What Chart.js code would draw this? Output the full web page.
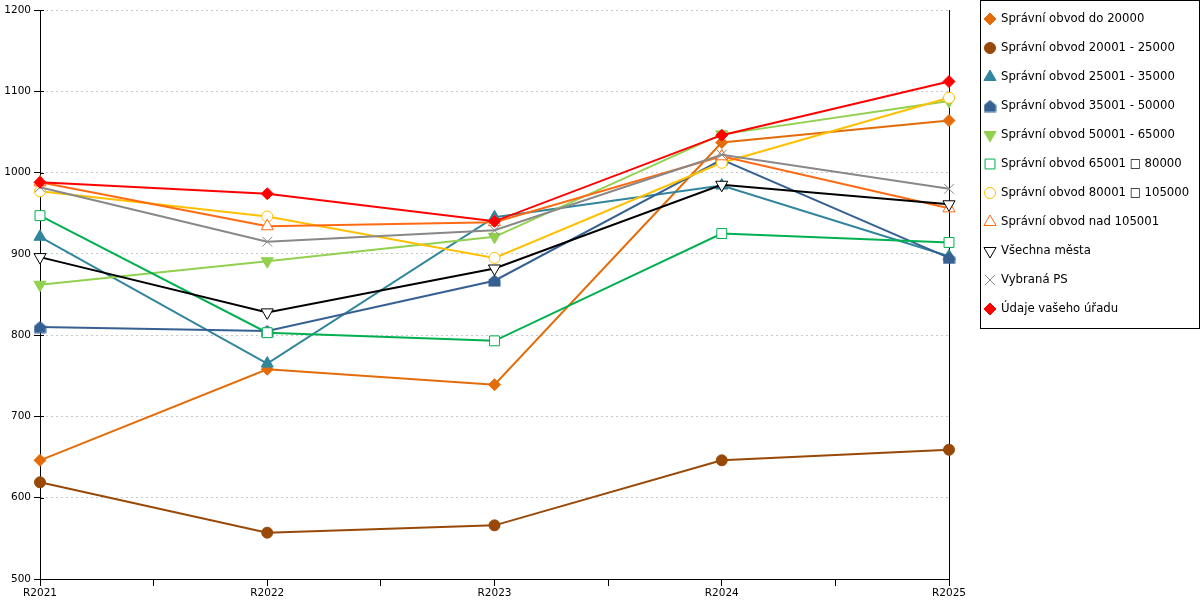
<!DOCTYPE html>
<html lang="cs">
<head>
  <meta charset="UTF-8" />
  <title>Správní obvody</title>
  <script src="https://cdn.jsdelivr.net/npm/chart.js"></script>
  <style>
    body { margin: 0; background: #fff; }
    #wrap { width: 1200px; height: 600px; }
  </style>
</head>
<body>
  <div id="wrap"><canvas id="chart"></canvas></div>

  <script>
    const labels = ["R2021", "R2022", "R2023", "R2024", "R2025"];

    const do20000   = [646, 758, 739, 1037, 1064];
    const o20_25    = [619, 557, 566, 646, 659];
    const o25_35    = [921, 765, 945, 984, 897];
    const o35_50    = [810, 805, 867, 1016, 895];
    const o50_65    = [862, 891, 921, 1047, 1088];
    const o65_80    = [947, 803, 793, 925, 914];
    const o80_105   = [977, 946, 895, 1012, 1092];
    const nad105001 = [988, 934, 939, 1020, 956];
    const vsechna   = [896, 828, 882, 985, 961];
    const vybrana   = [982, 915, 929, 1022, 980];
    const udaje     = [988, 974, 940, 1046, 1112];

    const yTicks = { min: 500, max: 1200, step: 100 };

    // pětiúhelník ("domeček") pro 35001 - 50000
    function housePoint(color) {
      const c = document.createElement("canvas");
      c.width = 13; c.height = 13;
      const g = c.getContext("2d");
      g.fillStyle = color;
      g.beginPath();
      g.moveTo(6.5, 0.5);
      g.lineTo(12.5, 5.5);
      g.lineTo(12.5, 12.5);
      g.lineTo(0.5, 12.5);
      g.lineTo(0.5, 5.5);
      g.closePath();
      g.fill();
      return c;
    }

    const series = [
      { label: "Správní obvod do 20000", data: do20000, color: "#E36C09", style: "rectRot", r: 6 },
      { label: "Správní obvod 20001 - 25000", data: o20_25, color: "#984807", style: "circle", r: 5.5 },
      { label: "Správní obvod 25001 - 35000", data: o25_35, color: "#31859C", style: "triangle", r: 7 },
      { label: "Správní obvod 35001 - 50000", data: o35_50, color: "#366092", style: housePoint("#366092"), r: 6 },
      { label: "Správní obvod 50001 - 65000", data: o50_65, color: "#92D050", style: "triangle", r: 7, rot: 180 },
      { label: "Správní obvod 65001 \u25A1 80000", data: o65_80, color: "#00B050", style: "rect", r: 7, hollow: true },
      { label: "Správní obvod 80001 \u25A1 105000", data: o80_105, color: "#FFC000", style: "circle", r: 5.5, hollow: true },
      { label: "Správní obvod nad 105001", data: nad105001, color: "#FF6A13", style: "triangle", r: 7, hollow: true },
      { label: "Všechna města", data: vsechna, color: "#000000", style: "triangle", r: 7, rot: 180, hollow: true },
      { label: "Vybraná PS", data: vybrana, color: "#888888", style: "crossRot", r: 7, hollow: true },
      { label: "Údaje vašeho úřadu", data: udaje, color: "#FF0000", style: "rectRot", r: 6 }
    ];

    const datasets = series.map((s, i) => ({
      label: s.label,
      data: s.data.map((v, k) => ({ x: k, y: v })),
      borderColor: s.color,
      borderWidth: 2,
      pointStyle: s.style,
      pointRadius: s.r,
      pointRotation: s.rot || 0,
      pointBackgroundColor: s.hollow ? "#ffffff" : s.color,
      pointBorderColor: s.color,
      pointBorderWidth: 1,
      tension: 0,
      clip: false,
      order: series.length - i
    }));

    // vlastní legenda v rámečku vpravo + pravá svislá čára + ticky přes osu Y
    const boxLegend = {
      id: "boxLegend",
      beforeDatasetsDraw(chart) {
        const ctx = chart.ctx;
        const a = chart.chartArea;
        const ys = chart.scales.y;
        ctx.save();
        ctx.strokeStyle = "#000";
        ctx.lineWidth = 1;
        ctx.beginPath();
        ctx.moveTo(Math.round(a.right) + 0.5, a.top);
        ctx.lineTo(Math.round(a.right) + 0.5, a.bottom + 4);
        ys.ticks.forEach(t => {
          const py = Math.round(ys.getPixelForValue(t.value)) + 0.5;
          ctx.moveTo(a.left, py);
          ctx.lineTo(a.left + 4, py);
        });
        ctx.stroke();
        ctx.restore();
      },
      afterDraw(chart) {
        const ctx = chart.ctx;
        ctx.save();
        ctx.strokeStyle = "#000";
        ctx.lineWidth = 1;
        const lx = 980, ly = 0, lw = 219, lh = 328;
        ctx.strokeRect(lx + 0.5, ly + 0.5, lw, lh);

        ctx.font = "11.7px 'DejaVu Sans'";
        ctx.textBaseline = "middle";
        ctx.textAlign = "left";
        series.forEach((s, i) => {
          const y = 19 + i * 29;
          ctx.fillStyle = s.hollow ? "#ffffff" : s.color;
          ctx.strokeStyle = s.color;
          ctx.lineWidth = 1;
          Chart.helpers.drawPoint(ctx, {
            pointStyle: s.style, radius: s.r, rotation: s.rot || 0, borderWidth: 1
          }, 990, y);
          ctx.fillStyle = "#000";
          ctx.fillText(s.label, 1001, y);
        });
        ctx.restore();
      }
    };

    new Chart(document.getElementById("chart"), {
      type: "line",
      data: { datasets },
      plugins: [boxLegend],
      options: {
        responsive: true,
        maintainAspectRatio: false,
        animation: false,
        layout: { padding: { top: 10, right: 251, left: 0, bottom: 0 } },
        plugins: { legend: { display: false }, tooltip: { enabled: false } },
        scales: {
          x: {
            type: "linear",
            min: 0,
            max: labels.length - 1,
            afterFit: s => { s.height = 21; },
            ticks: {
              stepSize: 0.5,
              autoSkip: false,
              maxRotation: 0,
              padding: 1,
              color: "#000",
              font: { family: "DejaVu Sans", size: 10.5 },
              callback: v => Number.isInteger(v) ? labels[v] : ""
            },
            grid: { drawOnChartArea: false, tickLength: 7, color: "#000" },
            border: { color: "#000", width: 1 }
          },
          y: {
            min: yTicks.min,
            max: yTicks.max,
            afterFit: s => { s.width = 40; },
            ticks: {
              stepSize: yTicks.step,
              padding: 3,
              color: "#000",
              font: { family: "DejaVu Sans", size: 10.5 },
              callback: v => String(v)
            },
            grid: { color: "#c8c8c8", tickColor: "#000", tickLength: 6 },
            border: { color: "#000", width: 1, dash: [2, 3] }
          }
        }
      }
    });
  </script>
</body>
</html>
